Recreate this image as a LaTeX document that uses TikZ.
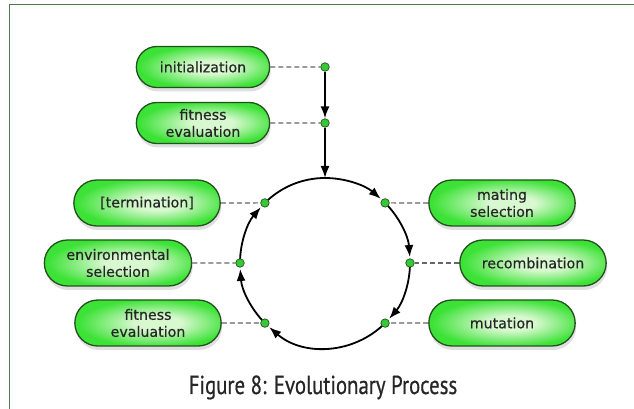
\documentclass[tikz,border=0pt]{standalone}
\usepackage{fontspec}
\usetikzlibrary{arrows.meta,shapes.misc,shadows,backgrounds}
\newfontfamily\boxfont[FakeBold=0.5]{DejaVu Sans}
\newfontfamily\capfont[FakeStretch=0.8,FakeBold=0.6]{PT Sans}
\definecolor{framegreen}{HTML}{4F7A4F}
\definecolor{pillgreen}{HTML}{3CE236}
\definecolor{pilllight}{HTML}{D8F8D0}
\definecolor{pilledge}{HTML}{24501F}
\definecolor{dotgreen}{HTML}{36C936}
\definecolor{textgray}{HTML}{262626}
\definecolor{linkgray}{HTML}{666666}
\pgfdeclareradialshading{pillshade}{\pgfpoint{4bp}{0bp}}{%
  color(0bp)=(pilllight); color(8bp)=(pilllight);
  color(26bp)=(pillgreen); color(44bp)=(pillgreen); color(50bp)=(pillgreen!88!black)}
\begin{document}
\begin{tikzpicture}[x=1pt,y=1pt,
    stage/.style={rounded rectangle, draw=pilledge, line width=1.3pt,
      shading=pillshade,
      drop shadow={opacity=0.25, shadow xshift=1pt, shadow yshift=-4pt},
      minimum width=153pt, minimum height=46pt, text=textgray,
      font=\boxfont\fontsize{14.2}{17}\selectfont, align=center},
    topstage/.style={stage, minimum width=140pt, minimum height=41pt},
    dot/.style={circle, draw=pilledge, line width=0.7pt, fill=dotgreen,
      inner sep=0pt, minimum size=8.5pt},
    link/.style={dash pattern=on 5pt off 3pt, draw=linkgray, line width=1.2pt},
    flow/.style={line width=1.8pt, -{Latex[length=12pt,width=9pt]}}]
      \useasboundingbox (0,0) rectangle (634,409);
      \coordinate (c) at (325,146);
      \coordinate (ctop) at (325,231);
      \node[topstage] (init) at (203,342) {initialization};
      \node[topstage] (fit1) at (203,286) {fitness\\evaluation};
      \node[stage] (term) at (147,206) {[termination]};
      \node[stage, minimum width=154pt] (env) at (118,146) {environmental\\selection};
      \node[stage] (fit2) at (148,86) {fitness\\evaluation};
      \node[stage] (mate) at (502,206) {mating\\selection};
      \node[stage] (recomb) at (533,146) {recombination};
      \node[stage] (mut) at (502,86) {mutation};
      \node[dot] (dinit) at (325,342) {};
      \node[dot] (dfit) at (325,286) {};
      \node[dot] (d135) at ([shift={(135:85)}]c) {};
      \node[dot] (d180) at ([shift={(180:85)}]c) {};
      \node[dot] (d225) at ([shift={(225:85)}]c) {};
      \node[dot] (d45) at ([shift={(45:85)}]c) {};
      \node[dot] (d0) at ([shift={(0:85)}]c) {};
      \node[dot] (d315) at ([shift={(315:85)}]c) {};
      \node[font=\capfont\fontsize{26}{30}\selectfont, text=textgray, anchor=base]
        (caption) at (323,15) {Figure 8: Evolutionary Process};
      \begin{pgfonlayer}{background}
        \draw[framegreen, line width=1pt] (9,0) -- (9,404) -- (634,404);
        \draw[link] (init) -- (dinit);
        \draw[link] (fit1) -- (dfit);
        \draw[link] (term) -- (d135);
        \draw[link] (env) -- (d180);
        \draw[link] (fit2) -- (d225);
        \draw[link] (mate) -- (d45);
        \draw[link] (recomb) -- (d0);
        \draw[link] (mut) -- (d315);
        \draw[flow] (dinit) -- (dfit);
        \draw[flow] (dfit) -- (ctop);
        \draw[flow] (ctop) arc[start angle=90, end angle=49, radius=85];
        \draw[flow] (d45) arc[start angle=45, end angle=4, radius=85];
        \draw[flow] (d0) arc[start angle=0, end angle=-41, radius=85];
        \draw[flow] (d315) arc[start angle=-45, end angle=-131, radius=85];
        \draw[flow] (d225) arc[start angle=225, end angle=184, radius=85];
        \draw[flow] (d180) arc[start angle=180, end angle=139, radius=85];
        \draw[line width=1.8pt] (d135) arc[start angle=135, end angle=90, radius=85];
      \end{pgfonlayer}
    \end{tikzpicture}
\end{document}
